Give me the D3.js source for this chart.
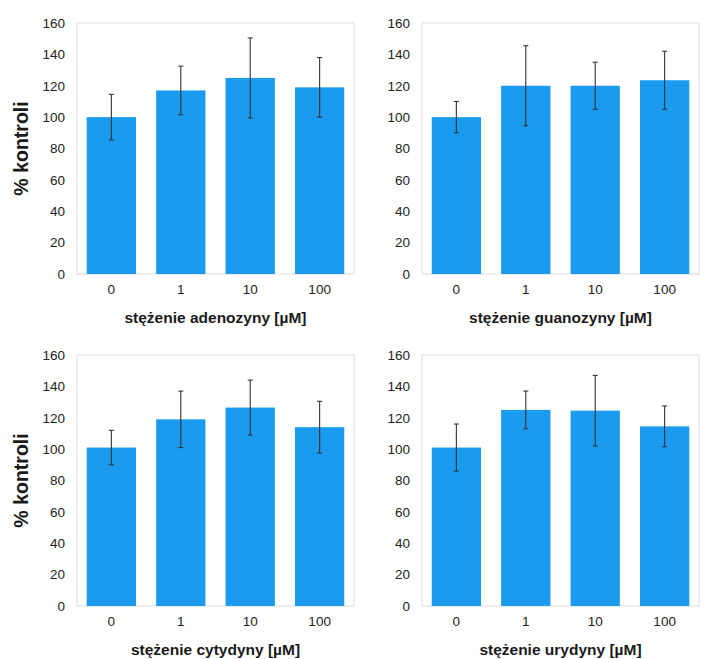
<!DOCTYPE html>
<html>
<head>
<meta charset="utf-8">
<script src="https://cdn.jsdelivr.net/npm/d3@7"></script>
<style>
html,body{margin:0;padding:0;background:#fff;}
svg{display:block;font-family:"Liberation Sans",Arial,Helvetica,sans-serif;}
</style>
</head>
<body>
<svg id="chart" width="710" height="659"></svg>
<script>
const categories = ["0", "1", "10", "100"];
const yTicks = [0, 20, 40, 60, 80, 100, 120, 140, 160];
const yLabel = "% kontroli";

const adenozynaValues = [100, 117, 125, 119];
const adenozynaErrors = [14.5, 15.5, 25.5, 19];
const guanozynaValues = [100, 120, 120, 123.5];
const guanozynaErrors = [10, 25.5, 15, 18.5];
const cytydynaValues = [101, 119, 126.5, 114];
const cytydynaErrors = [11, 18, 17.5, 16.5];
const urydynaValues = [101, 125, 124.5, 114.5];
const urydynaErrors = [15, 12, 22.5, 13];

const titles = ["stężenie adenozyny [µM]", "stężenie guanozyny [µM]", "stężenie cytydyny [µM]", "stężenie urydyny [µM]"];

const panels = [
  {values: adenozynaValues, errors: adenozynaErrors, title: titles[0], x0: 77, y0: 23, showY: true},
  {values: guanozynaValues, errors: guanozynaErrors, title: titles[1], x0: 422, y0: 23, showY: false},
  {values: cytydynaValues, errors: cytydynaErrors, title: titles[2], x0: 77, y0: 355, showY: true},
  {values: urydynaValues, errors: urydynaErrors, title: titles[3], x0: 422, y0: 355, showY: false}
];

const W = 277, H = 251;
const barColor = "#1b9bf0";
const svg = d3.select("#chart");

panels.forEach(p => {
  const g = svg.append("g").attr("transform", `translate(${p.x0},${p.y0})`);
  const x = d3.scaleBand().domain(categories).range([0, W]).paddingInner(0.29).paddingOuter(0.14);
  const y = d3.scaleLinear().domain([0, 160]).range([H, 0]);

  // plot frame
  g.append("rect").attr("x", 0).attr("y", 0).attr("width", W).attr("height", H)
    .attr("fill", "none").attr("stroke", "#dcdcdc").attr("stroke-width", 1);

  // bars
  g.selectAll("rect.bar").data(p.values).join("rect").attr("class", "bar")
    .attr("x", (d, i) => x(categories[i]))
    .attr("width", x.bandwidth())
    .attr("y", d => y(d))
    .attr("height", d => y(0) - y(d))
    .attr("fill", barColor);

  // error bars
  const eg = g.selectAll("g.err").data(p.values).join("g").attr("class", "err");
  eg.append("line")
    .attr("x1", (d, i) => x(categories[i]) + x.bandwidth() / 2)
    .attr("x2", (d, i) => x(categories[i]) + x.bandwidth() / 2)
    .attr("y1", (d, i) => y(d + p.errors[i]))
    .attr("y2", (d, i) => y(d - p.errors[i]))
    .attr("stroke", "#333").attr("stroke-width", 1.1);
  eg.append("line")
    .attr("x1", (d, i) => x(categories[i]) + x.bandwidth() / 2 - 2.5)
    .attr("x2", (d, i) => x(categories[i]) + x.bandwidth() / 2 + 2.5)
    .attr("y1", (d, i) => y(d + p.errors[i]))
    .attr("y2", (d, i) => y(d + p.errors[i]))
    .attr("stroke", "#333").attr("stroke-width", 1.1);
  eg.append("line")
    .attr("x1", (d, i) => x(categories[i]) + x.bandwidth() / 2 - 2.5)
    .attr("x2", (d, i) => x(categories[i]) + x.bandwidth() / 2 + 2.5)
    .attr("y1", (d, i) => y(d - p.errors[i]))
    .attr("y2", (d, i) => y(d - p.errors[i]))
    .attr("stroke", "#333").attr("stroke-width", 1.1);

  // y axis
  const ya = g.append("g").call(d3.axisLeft(y).tickValues(yTicks).tickSize(0).tickPadding(12));
  ya.select(".domain").remove();
  ya.selectAll("text").attr("font-size", 13.5).attr("fill", "#222")
    .attr("font-family", "'Liberation Sans',Arial,sans-serif");

  // x axis
  const xa = g.append("g").attr("transform", `translate(0,${H})`)
    .call(d3.axisBottom(x).tickSize(0).tickPadding(10));
  xa.select(".domain").remove();
  xa.selectAll("text").attr("font-size", 13.5).attr("fill", "#222")
    .attr("font-family", "'Liberation Sans',Arial,sans-serif");

  // x title
  g.append("text").attr("x", W / 2).attr("y", H + 48.5)
    .attr("text-anchor", "middle").attr("font-size", 15.5).attr("font-weight", "bold")
    .attr("fill", "#1a1a1a").text(p.title);

  if (p.showY) {
    g.append("text").attr("transform", `translate(${-49},${H / 2}) rotate(-90)`)
      .attr("text-anchor", "middle").attr("font-size", 19.5).attr("font-weight", "bold")
      .attr("fill", "#1a1a1a").text(yLabel);
  }
});
</script>
</body>
</html>
